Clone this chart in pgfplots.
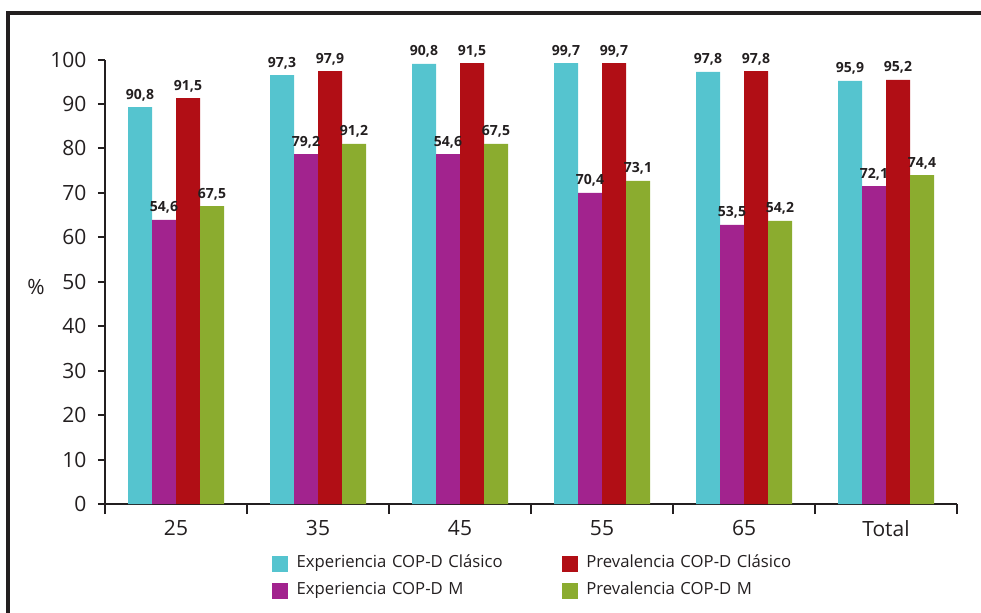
\documentclass[border=0pt]{standalone}
\usepackage{pgfplots}
\pgfplotsset{compat=1.18}
\usepackage{pgfplotstable}
\usepackage{fontspec}
\setmainfont{Open Sans}

\definecolor{cCyan}{HTML}{55C4CF}
\definecolor{cMag}{HTML}{A2238E}
\definecolor{cRed}{HTML}{B10E15}
\definecolor{cGreen}{HTML}{8BAC2F}
\definecolor{ink}{HTML}{231F20}

% x = group, y = bar height as drawn, lab = printed value
\pgfplotstableread{
x y lab
0 89.3 90,8
1 96.5 97,3
2 99.0 90,8
3 99.2 99,7
4 97.2 97,8
5 95.2 95,9
}\expClas
\pgfplotstableread{
x y lab
0 63.9 54,6
1 78.7 79,2
2 78.7 54,6
3 70.0 70,4
4 62.8 53,5
5 71.5 72,1
}\expM
\pgfplotstableread{
x y lab
0 91.3 91,5
1 97.4 97,9
2 99.2 91,5
3 99.2 99,7
4 97.4 97,8
5 95.4 95,2
}\prevClas
\pgfplotstableread{
x y lab
0 67.0 67,5
1 81.0 91,2
2 81.0 67,5
3 72.7 73,1
4 63.7 54,2
5 74.0 74,4
}\prevM

\begin{document}
\begin{tikzpicture}
\draw[ink, line width=4bp] (8bp,-13bp) rectangle (1100bp,-700bp);
\begin{axis}[
  at={(105bp,-504bp)}, anchor=south west,
  scale only axis, width=852bp, height=444.5bp,
  xmin=-0.5, xmax=5.5, ymin=0, ymax=100,
  clip=false,
  axis lines=left,
  axis line style={-, ink, line width=2bp},
  every tick/.style={ink, line width=2bp},
  tick align=outside,
  major tick length=7bp, minor tick length=10bp,
  ytick={0,10,...,100},
  xtick={0,...,5}, xticklabels={25,35,45,55,65,Total},
  major x tick style={draw=none},
  minor xtick={-0.5,0.5,...,5.5},
  ticklabel style={font=\fontsize{21bp}{25bp}\selectfont, text=ink},
  /pgf/number format/assume math mode=true,
  yticklabel style={xshift=-8bp},
  xticklabel style={yshift=-6bp},
  every axis y label/.style={at={(axis description cs:-0.081,0.488)}, anchor=center,
    font=\fontsize{21bp}{25bp}\selectfont, text=ink},
  ylabel={\%},
  ybar=0pt, bar width=24bp,
  point meta=explicit symbolic,
  nodes near coords,
  every node near coord/.append style={font=\bfseries\fontsize{14bp}{16bp}\selectfont,
    text=ink, inner sep=0pt, anchor=south, yshift=6bp},
  legend columns=2, transpose legend,
  legend image code/.code={\fill[#1] (0bp,-8bp) rectangle (16bp,8bp); \path (24.7bp,0bp);},
  legend style={at={(axis description cs:0.196,-0.1177)}, anchor=north west,
    draw=none, fill=none, inner sep=0pt, outer sep=0pt, row sep=11bp,
    cells={anchor=west},
    nodes={inner sep=0pt, text width=265bp, align=left, text height=0.75em, text depth=0.1em,
      font=\fontsize{16.7bp}{20bp}\selectfont, text=ink}},
]
\addplot[fill=cCyan, draw=none] table[x=x, y=y, meta=lab] {\expClas};
\addlegendentry{Experiencia COP-D Clásico}
\addplot[fill=cMag, draw=none] table[x=x, y=y, meta=lab] {\expM};
\addlegendentry{Experiencia COP-D M}
\addplot[fill=cRed, draw=none] table[x=x, y=y, meta=lab] {\prevClas};
\addlegendentry{Prevalencia COP-D Clásico}
\addplot[fill=cGreen, draw=none] table[x=x, y=y, meta=lab] {\prevM};
\addlegendentry{Prevalencia COP-D M}
\end{axis}
\pgfresetboundingbox
\path (0,0) rectangle (981bp,-613bp);
\end{tikzpicture}
\end{document}
